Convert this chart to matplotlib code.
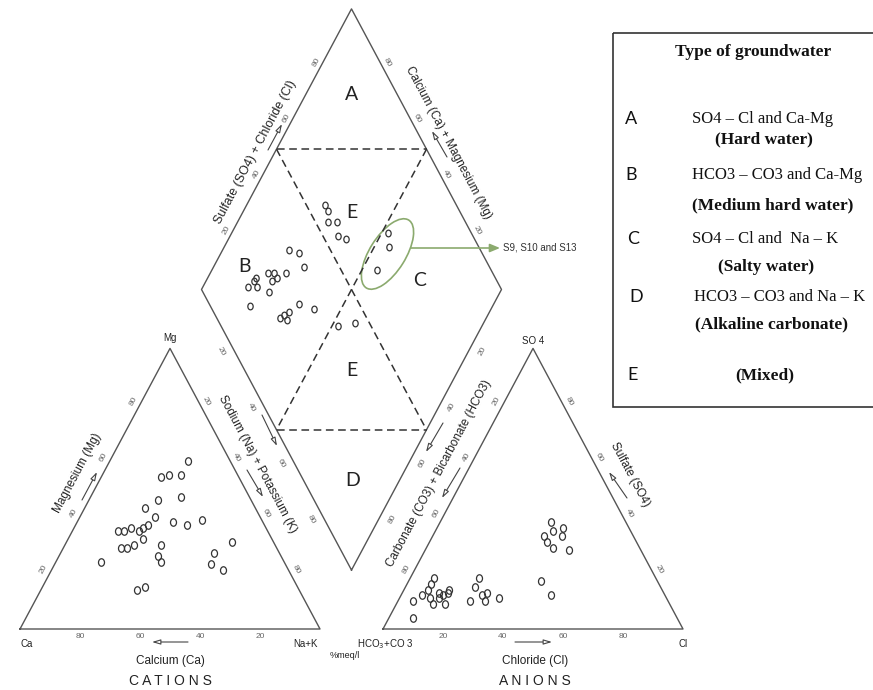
import numpy as np
import matplotlib
matplotlib.use("Agg")
import matplotlib.pyplot as plt
from matplotlib.patches import Ellipse, Rectangle
from matplotlib.path import Path
from matplotlib.transforms import Affine2D

# cation triangle, % meq/l
cat_mg = [60, 54, 55, 55, 46, 47, 43, 40, 38, 37, 39, 35, 35, 36, 35, 36,
          37, 29, 29, 30, 32, 30, 26, 24, 24, 23, 27, 31, 21, 14, 15]
cat_nak = [26, 20, 22, 26, 23, 30, 20, 25, 32, 37, 41, 15, 17, 19, 22, 23,
           24, 19, 21, 23, 25, 32, 33, 35, 15, 52, 51, 55, 57, 32, 34]

# anion triangle, % meq/l
an_so4 = [38, 35, 36, 33, 31, 33, 29, 28, 17, 12,
          18, 16, 14, 12, 13, 12, 13, 14, 11, 11, 9, 9, 10, 4,
          18, 15, 13, 12, 10, 10, 11]
an_cl = [37, 39, 42, 37, 39, 43, 42, 48, 44, 50,
         8, 8, 8, 7, 12, 14, 15, 15, 10, 13, 16, 12, 5, 8,
         23, 23, 28, 27, 29, 24, 33]

# diamond field: SO4+Cl and Ca+Mg, %
dia_so4cl = [56, 56, 54, 57, 55, 57, 36, 39, 38, 31, 25, 27, 27, 25, 20, 16,
             19, 22, 13, 21, 23, 25, 23, 30, 34, 39, 45, 72, 70, 62, 19]
dia_camg = [74, 72, 70, 67, 64, 61, 78, 74, 70, 75, 81, 79, 77, 78, 84, 85,
            82, 77, 81, 69, 68, 67, 66, 65, 59, 48, 43, 48, 45, 45, 84]

ticks = [20, 40, 60, 80]

legend_letters = ["A", "B", "C", "D", "E"]
legend_types = ["SO4 – Cl and Ca-Mg", "HCO3 – CO3 and Ca-Mg",
                "SO4 – Cl and  Na – K", "HCO3 – CO3 and Na – K", ""]
legend_names = ["(Hard water)", "(Medium hard water)", "(Salty water)",
                "(Alkaline carbonate)", "(Mixed)"]

# layout in pixels
GAP = 21
X0, Y0, SX, SY = 20, 629, 3.0, 3.24
H = np.sqrt(3) / 2 * 100
LINE = "#555555"
INK = "#222222"
GREEN = "#8BAA6E"
SANS = "Liberation Sans"


def px(x, y):
    return X0 + SX * np.asarray(x, float), Y0 - SY * np.asarray(y, float)


def cation_xy(mg, nak):
    mg = np.asarray(mg, float)
    nak = np.asarray(nak, float)
    return px(nak + mg / 2, mg * H / 100)


def anion_xy(so4, cl):
    so4 = np.asarray(so4, float)
    cl = np.asarray(cl, float)
    return px(100 + GAP + cl + so4 / 2, so4 * H / 100)


BX, BY = 100 + GAP / 2, GAP / 2 * np.sqrt(3)


def diamond_xy(a, c):
    a = np.asarray(a, float) / 100
    c = np.asarray(c, float) / 100
    return px(BX + 50 * (a - c), BY + H * (a + c))


fig = plt.figure(figsize=(8.73, 6.90), dpi=100)
ax = fig.add_axes([0, 0, 1, 1])
ax.set_xlim(0, 873)
ax.set_ylim(690, 0)
ax.axis("off")

# outlines
for xs, ys in [cation_xy([0, 0, 100, 0], [0, 100, 0, 0]),
               anion_xy([0, 0, 100, 0], [0, 100, 0, 0]),
               diamond_xy([0, 0, 100, 100, 0], [0, 100, 100, 0, 0])]:
    ax.plot(xs, ys, color=LINE, lw=1.0, solid_joinstyle="round")

# dashed subdivisions of the diamond
for a, c in [([50, 50], [100, 0]), ([100, 0], [50, 50]),
             ([50, 100], [100, 50]), ([0, 50], [50, 0])]:
    xs, ys = diamond_xy(a, c)
    ax.plot(xs, ys, color="#333333", lw=1.1, dashes=(5, 3))

# tick labels
NL = np.array([-0.881, -0.472])   # outward normal, up-left edges
NR = np.array([0.881, -0.472])    # outward normal, up-right edges
tk = dict(fontsize=6, color="#666666", ha="center", va="center",
          family=SANS, rotation_mode="anchor")
for t in ticks:
    x, y = cation_xy(0, 100 - t)
    ax.text(x, y + 8, str(t), **tk)
    x, y = cation_xy(t, 0)
    ax.text(x + NL[0] * 7, y + NL[1] * 7, str(t), rotation=62, **tk)
    x, y = cation_xy(100 - t, t)
    ax.text(x + NR[0] * 7, y + NR[1] * 7, str(t), rotation=-62, **tk)

    x, y = anion_xy(0, t)
    ax.text(x, y + 8, str(t), **tk)
    x, y = anion_xy(100 - t, 0)
    ax.text(x + NL[0] * 7, y + NL[1] * 7, str(t), rotation=62, **tk)
    x, y = anion_xy(t, 100 - t)
    ax.text(x + NR[0] * 7, y + NR[1] * 7, str(t), rotation=-62, **tk)

    x, y = diamond_xy(t, 100)
    ax.text(x + NL[0] * 6, y + NL[1] * 6, str(t), rotation=62, **tk)
    x, y = diamond_xy(100, t)
    ax.text(x + NR[0] * 6, y + NR[1] * 6, str(t), rotation=-62, **tk)
    x, y = diamond_xy(0, 100 - t)
    ax.text(x - NR[0] * 12, y - NR[1] * 12, str(t), rotation=-62, **tk)
    x, y = diamond_xy(100 - t, 0)
    ax.text(x - NL[0] * 12, y - NL[1] * 12, str(t), rotation=62, **tk)

# axis titles
ttl = dict(fontsize=8.5, color=INK, ha="center", va="center",
           family=SANS, rotation_mode="anchor")
ax.text(78, 473, "Magnesium (Mg)", rotation=62, **ttl)
ax.text(257, 464, "Sodium (Na) + Potassium (K)", rotation=-62, **ttl)
ax.text(255, 152, "Sulfate (SO4) + Chloride (Cl)", rotation=62,
        **{**ttl, "fontsize": 9})
ax.text(448, 143, "Calcium (Ca) + Magnesium (Mg)", rotation=-62, **ttl)
ax.text(439, 473, "Carbonate (CO3) + Bicarbonate (HCO3)", rotation=62, **ttl)
ax.text(630, 475, "Sulfate (SO4)", rotation=-62, **ttl)
ax.text(170, 661, "Calcium (Ca)", **ttl)
ax.text(535, 661, "Chloride (Cl)", **ttl)
ax.text(170, 681, "C A T I O N S", fontsize=10, color=INK, ha="center",
        va="center", family=SANS)
ax.text(535, 681, "A N I O N S", fontsize=10, color=INK, ha="center",
        va="center", family=SANS)
ax.text(345, 656, "%meq/l", fontsize=6.5, color=INK, ha="center",
        va="center", family=SANS)

# vertex names
vx = dict(fontsize=7, color=INK, ha="center", va="center", family=SANS)
ax.text(170, 338, "Mg", **vx)
ax.text(27, 644, "Ca", **vx)
ax.text(306, 644, "Na+K", **vx)
ax.text(533, 341, "SO 4", **vx)
ax.text(385, 644, "HCO$_3$+CO 3", **vx)
ax.text(683, 644, "Cl", **vx)

# direction arrows
arrows = [((82, 500), (97, 472)), ((188, 642), (152, 642)),
          ((247, 470), (263, 497)), ((262, 415), (277, 446)),
          ((268, 150), (282, 124)), ((447, 157), (432, 131)),
          ((443, 423), (426, 452)), ((460, 468), (442, 498)),
          ((627, 498), (609, 472)), ((515, 642), (552, 642))]
for tail, head in arrows:
    ax.annotate("", xy=head, xytext=tail,
                arrowprops=dict(arrowstyle="-|>,head_length=0.5,head_width=0.15",
                                color="#444444", lw=0.8, fc="white",
                                shrinkA=0, shrinkB=0))

# sample points
oval = Path.unit_circle().transformed(Affine2D().scale(0.8, 1.0))
pt = dict(ls="none", marker=oval, mfc="none", mec="#333333", mew=0.9)
ax.plot(*cation_xy(cat_mg, cat_nak), ms=5.4, **pt)
ax.plot(*anion_xy(an_so4, an_cl), ms=5.4, **pt)
ax.plot(*diamond_xy(dia_so4cl, dia_camg), ms=4.8, **pt)

# water type fields
fld = dict(fontsize=14, color=INK, ha="center", va="center", family="Lato")
ax.text(352, 95, "A", **fld)
ax.text(352, 213, "E", **fld)
ax.text(245, 266, "B", **fld)
ax.text(420, 280, "C", **fld)
ax.text(352, 370, "E", **fld)
ax.text(353, 480, "D", **fld)

# highlighted samples
ax.add_patch(Ellipse((387.5, 254), 80, 36, angle=-58, fill=False,
                     ec=GREEN, lw=1.2))
ax.annotate("", xy=(500, 248), xytext=(411, 248),
            arrowprops=dict(arrowstyle="-|>,head_length=0.6,head_width=0.25",
                            color=GREEN, lw=1.2, shrinkA=0, shrinkB=0))
ax.text(503, 248, "S9, S10 and S13", fontsize=7, color="#333333",
        ha="left", va="center", family=SANS)

# legend box
ax.add_patch(Rectangle((613, 33), 280, 374, fill=False, ec="#333333", lw=1.2))
ax.text(753, 52, "Type of groundwater", fontsize=12.5, fontweight="bold",
        family="Liberation Serif", color="#111111", ha="center", va="center")
row_y = [119, 175, 239, 297, 375]
name_y = [139, 205, 267, 324, 375]
type_x = [692, 692, 692, 694, 692]
name_x = [715, 692, 718, 695, 735]
letter_x = [631, 631, 633, 636, 633]
for i, letter in enumerate(legend_letters):
    ax.text(letter_x[i], row_y[i], letter, fontsize=13, family="Lato",
            color="#111111", ha="center", va="center")
    if legend_types[i]:
        ax.text(type_x[i], row_y[i], legend_types[i], fontsize=12,
                family="Liberation Serif", color="#111111", ha="left",
                va="center")
    ax.text(name_x[i], name_y[i], legend_names[i], fontsize=12.5,
            fontweight="bold", family="Liberation Serif", color="#111111",
            ha="left", va="center")

fig.savefig("out.png", dpi=100)
